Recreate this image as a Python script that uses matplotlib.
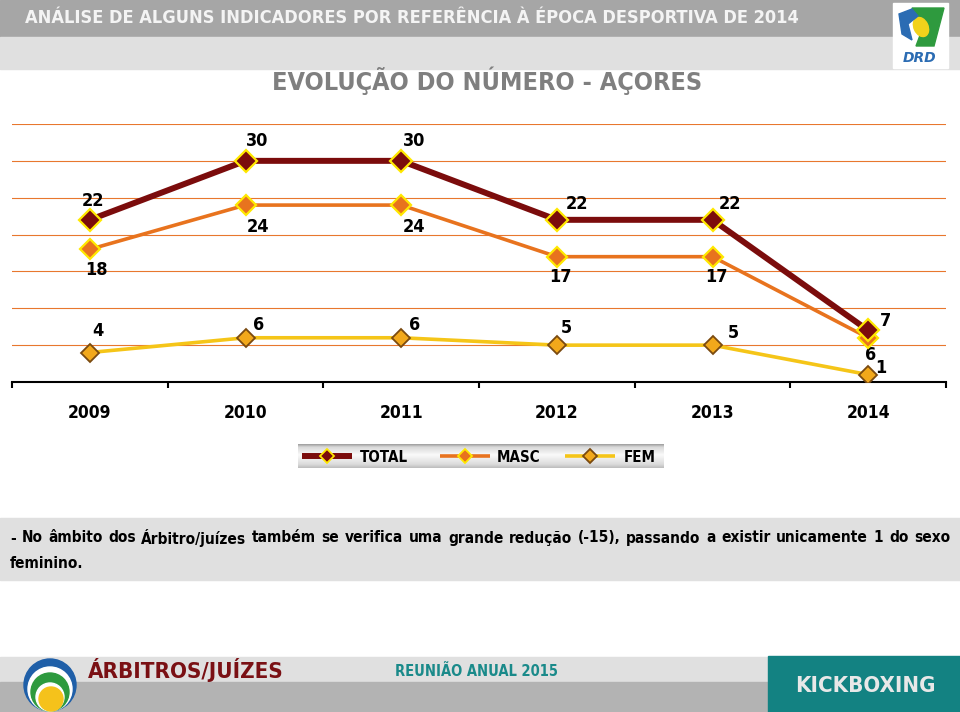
import matplotlib
matplotlib.use("Agg")
import matplotlib.pyplot as plt
from matplotlib import font_manager
from matplotlib.font_manager import FontProperties
from matplotlib.patches import Rectangle, Circle, Polygon, Ellipse
import numpy as np

years = ['2009', '2010', '2011', '2012', '2013', '2014']
total = [22, 30, 30, 22, 22, 7]
masc = [18, 24, 24, 17, 17, 6]
fem = [4, 6, 6, 5, 5, 1]

header = 'ANÁLISE DE ALGUNS INDICADORES POR REFERÊNCIA À ÉPOCA DESPORTIVA DE 2014'
title = 'EVOLUÇÃO DO NÚMERO - AÇORES'
comment_1 = ('- No âmbito dos Árbitro/juízes também se verifica uma grande redução (-15), '
             'passando a existir unicamente 1 do sexo')
comment_2 = 'feminino.'
footer_left = 'ÁRBITROS/JUÍZES'
footer_mid = 'REUNIÃO ANUAL 2015'
footer_right = 'KICKBOXING'

# look for a condensed bold sans; fall back to DejaVu Sans Bold
narrow = None
for f in font_manager.fontManager.ttflist:
    is_narrow = (f.stretch in ('condensed', 'semi-condensed', 'extra-condensed')
                 or 'Narrow' in f.name or 'Condensed' in f.name)
    if is_narrow and f.weight in ('bold', 700, 'semibold', 600) and f.style == 'normal':
        narrow = f
        break
if narrow is not None:
    FP = FontProperties(fname=narrow.fname)
else:
    FP = FontProperties(family='DejaVu Sans', weight='bold')
plt.rcParams['font.family'] = ['DejaVu Sans']
plt.rcParams['font.weight'] = 'bold'

C_TOTAL = '#7B0C0C'
C_MASC = '#E8731E'
C_FEM = '#F5C518'
GRID = '#E8772E'

W, H = 960, 712
fig = plt.figure(figsize=(9.6, 7.12), dpi=100)
rend = fig.canvas.get_renderer()


def fit(t, target):
    # scale font size so that the text is `target` pixels wide
    w = t.get_window_extent(rend).width
    t.set_fontsize(t.get_fontsize() * target / w)
    return t


def txt(ax, x, y, s, size, **kw):
    return ax.text(x, y, s, fontproperties=FP, fontsize=size, **kw)


# background layer, pixel coordinates
bg = fig.add_axes([0, 0, 1, 1])
bg.set_xlim(0, W)
bg.set_ylim(H, 0)
bg.axis('off')

# header bands
bg.add_patch(Rectangle((0, 0), W, 37, color='#A6A6A6'))
bg.add_patch(Rectangle((0, 37), W, 32, color='#E0E0E0'))
fit(txt(bg, 25, 18, header, 17, color='#F4F4F4', va='center', ha='left'), 775)

# DRD logo (rough)
bg.add_patch(Rectangle((893, 3), 55, 65, color='white'))
bg.add_patch(Polygon([(912, 8), (944, 8), (934, 46), (916, 46), (922, 30)], color='#2E9A3E'))
bg.add_patch(Ellipse((921, 27), 14, 20, angle=-25, color='#F2D21B'))
bg.add_patch(Polygon([(899, 14), (912, 9), (918, 16), (908, 24), (912, 40), (902, 34)], color='#2B6CB3'))
bg.text(920, 58, 'DRD', color='#2B6CB3', fontsize=10, style='italic', ha='center', va='center')

fit(txt(bg, 487, 81, title, 23, color='#7F7F7F', ha='center', va='center'), 431)

# legend box with gradient
grad = np.interp(np.linspace(0, 1, 50), [0, 0.12, 0.45, 0.85, 1], [0.62, 0.85, 0.98, 0.86, 0.74])
bg.imshow(np.dstack([grad, grad, grad]).reshape(50, 1, 3),
          extent=[298, 664, 468, 444], aspect='auto', zorder=1)
bg.set_xlim(0, W)
bg.set_ylim(H, 0)
leg = [('TOTAL', C_TOTAL, 4.3, C_TOTAL, '#FFE800', 302, 360),
       ('MASC', C_MASC, 2.6, C_MASC, '#FFE800', 440, 497),
       ('FEM', C_FEM, 2.6, '#F2A81B', '#7A4A10', 565, 624)]
leg_size = None
for name, lc, lw, fc, ec, x0, xt in leg:
    bg.plot([x0, x0 + 50], [456, 456], color=lc, lw=lw, solid_capstyle='butt', zorder=2)
    bg.plot([x0 + 25], [456], marker='D', ms=7, mfc=fc, mec=ec, mew=1.3, zorder=3)
    t = txt(bg, xt, 457, name, 12, va='center', ha='left', zorder=3)
    if leg_size is None:
        leg_size = fit(t, 48).get_fontsize()
    t.set_fontsize(leg_size)

# comment box, first line justified
bg.add_patch(Rectangle((0, 518), W, 62, color='#E0E0E0'))
words = comment_1.split()
wtexts = [txt(bg, 0, 538, w, 11.5, va='center', ha='left') for w in words]
widths = [t.get_window_extent(rend).width for t in wtexts]
scale = 845 / sum(widths)
for t in wtexts:
    t.set_fontsize(11.5 * scale)
widths = [t.get_window_extent(rend).width for t in wtexts]
gap = (940 - sum(widths)) / (len(words) - 1)
x = 10
for t, w in zip(wtexts, widths):
    t.set_x(x)
    x += w + gap
txt(bg, 10, 564, comment_2, 11.5 * scale, va='center', ha='left')

# footer
bg.add_patch(Rectangle((0, 657), W, 24, color='#E0E0E0'))
bg.add_patch(Rectangle((0, 682), W, 30, color='#B3B3B3'))
bg.add_patch(Rectangle((768, 656), 192, 56, color='#138282'))
fit(txt(bg, 865, 686, footer_right, 20, color='#E8E8E8', ha='center', va='center'), 140)
fit(txt(bg, 88, 670, footer_left, 20, color='#7A1014', ha='left', va='center'), 195)
fit(txt(bg, 395, 671, footer_mid, 13, color='#1A8A8A', ha='left', va='center'), 162)
for (cx, cy, r, c) in [(50, 685, 26, '#1F5FA8'), (50, 689, 22, 'white'), (50, 692, 19, '#2E9A3E'),
                       (50, 697, 14, 'white'), (51, 699, 12, '#F5C21B')]:
    bg.add_patch(Circle((cx, cy), r, color=c))

# chart
ax = fig.add_axes([12 / W, 1 - 382 / H, 934 / W, 258 / H])
ax.patch.set_alpha(0)
xs = np.arange(len(years))
ax.plot(xs, fem, color=C_FEM, lw=2.6, marker='D', ms=9, mfc='#F2A81B', mec='#7A4A10', mew=1.3, zorder=3)
ax.plot(xs, masc, color=C_MASC, lw=2.6, marker='D', ms=10, mfc=C_MASC, mec='#FFE800', mew=1.6, zorder=4)
ax.plot(xs, total, color=C_TOTAL, lw=4.3, marker='D', ms=11, mfc=C_TOTAL, mec='#FFE800', mew=1.6, zorder=5)

off_total = [(3, 19), (12, 20), (13, 20), (20, 16), (18, 16), (17, 9)]
off_masc = [(7, -21), (12, -22), (13, -22), (4, -20), (4, -20), (2, -17)]
off_fem = [(8, 22), (13, 13), (13, 13), (10, 17), (21, 12), (13, 7)]
lab_size = 13 if narrow is not None else 11
for vals, offs in [(total, off_total), (masc, off_masc), (fem, off_fem)]:
    for i, v in enumerate(vals):
        ax.annotate(str(v), (xs[i], v), xytext=offs[i], textcoords='offset pixels',
                    ha='center', va='center', fontproperties=FP, fontsize=lab_size)

ax.set_xlim(-0.5, len(years) - 0.5)
ax.set_ylim(0, 35)
ax.set_yticks(np.arange(5, 36, 5))
ax.yaxis.grid(True, color=GRID, lw=0.8)
ax.tick_params(axis='y', length=0, labelleft=False)
ax.set_xticks(np.arange(-0.5, len(years), 1))
ax.set_xticklabels([])
ax.set_xticks(xs, minor=True)
ax.set_xticklabels(years, minor=True, fontproperties=FP, fontsize=lab_size - 0.5)
ax.tick_params(axis='x', which='major', length=4, width=1.5, direction='out')
ax.tick_params(axis='x', which='minor', length=0, pad=16)
for s in ['top', 'left', 'right']:
    ax.spines[s].set_visible(False)
ax.spines['bottom'].set_linewidth(1.5)
ax.set_axisbelow(True)

fig.savefig('out.png', dpi=100)
